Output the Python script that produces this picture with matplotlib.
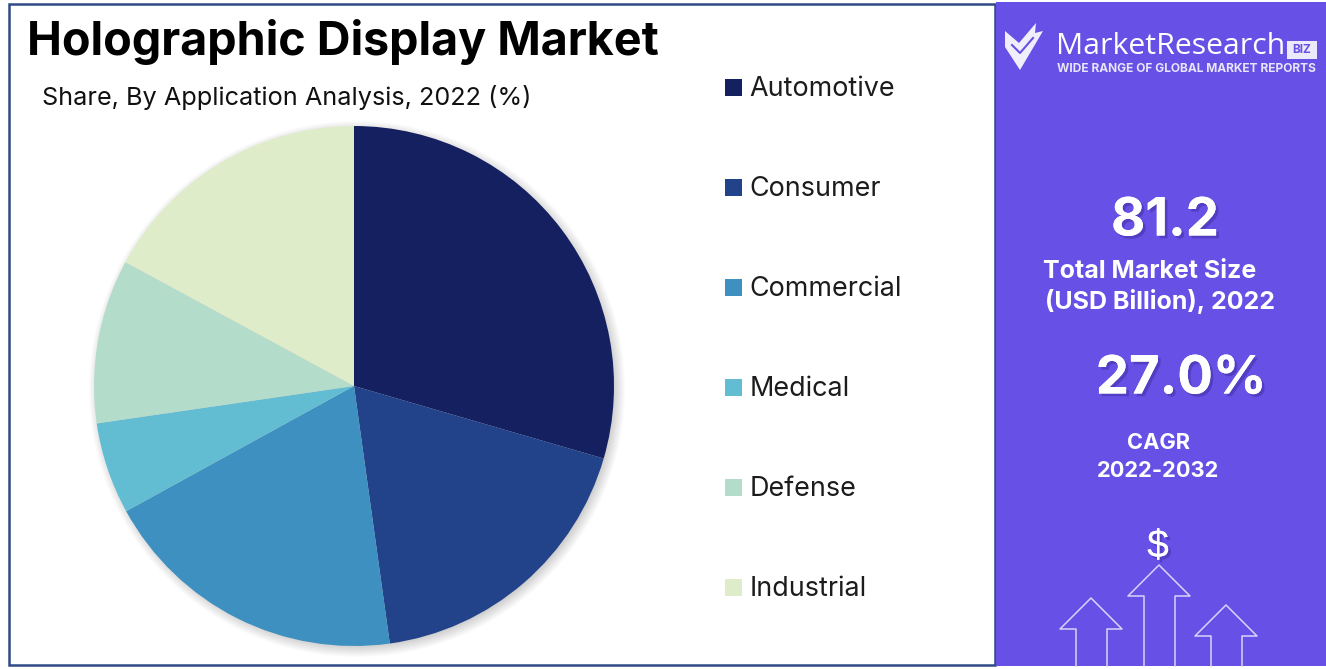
import matplotlib
matplotlib.use("Agg")
import matplotlib.pyplot as plt
import matplotlib.patheffects as pe
from matplotlib.patches import Rectangle, Circle, Polygon

# Data
categories = ["Automotive", "Consumer", "Commercial", "Medical", "Defense", "Industrial"]
shares = [29.5, 18.3, 19.2, 5.7, 10.2, 17.1]
colors = ["#14205f", "#22428a", "#3d90bf", "#62bdd3", "#b4dccb", "#dfecc9"]

title = "Holographic Display Market"
subtitle = "Share, By Application Analysis, 2022 (%)"
market_size = "81.2"
market_label = ["Total Market Size", "(USD Billion), 2022"]
cagr = "27.0%"
cagr_label = "CAGR\n2022-2032"

W, H = 1326, 669
PANEL = "#6650e6"
FONT = "Inter"

fig = plt.figure(figsize=(W / 100, H / 100), dpi=100, facecolor="white")

# Background axes in pixel coords, y pointing down like the picture
bg = fig.add_axes([0, 0, 1, 1])
bg.set_xlim(0, W)
bg.set_ylim(H, 0)
bg.axis("off")

# Frame and side panel
bg.add_patch(Rectangle((9, 4), 986, 661, fill=False, ec="#2f4a86", lw=1.8))
bg.add_patch(Rectangle((996, 2), 330, 664, fc=PANEL, ec="none"))

# Title
bg.text(27, 42, title, fontsize=33.6, fontweight="bold", family=FONT, color="black", va="center")
bg.text(42, 98, subtitle, fontsize=18.2, family=FONT, color="#111111", va="center")

# Soft shadow under the pie
for i in range(12):
    bg.add_patch(Circle((357, 389), 268 - i, fc="black", ec="none", alpha=0.016, zorder=1))

# Pie
cx, cy, r = 354, 386, 260
pie_ax = fig.add_axes([(cx - r) / W, 1 - (cy + r) / H, 2 * r / W, 2 * r / H])
pie_ax.pie(shares, colors=colors, startangle=90, counterclock=False, radius=1.0)
pie_ax.set_xlim(-1, 1)
pie_ax.set_ylim(-1, 1)

# Legend
for i, (name, col) in enumerate(zip(categories, colors)):
    y = 87 + i * 100
    bg.add_patch(Rectangle((725, y - 8.5), 17, 17, fc=col, ec="none"))
    bg.text(749.5, y + 2, name, fontsize=19.4, family=FONT, color="#1c1c1c", va="center")

# Logo
bg.add_patch(Polygon([(1005, 31), (1019, 43), (1036, 23), (1035, 33), (1043, 31), (1020, 70), (1005, 47)],
                     fc="#f1eefc", ec="none", zorder=3))
bg.plot([1012, 1020, 1033], [45, 53, 38], color=PANEL, lw=1.5, zorder=4)
bg.text(1056, 47, "MarketResearch", fontsize=21.8, family="Open Sans", color="white", va="center", zorder=3)
bg.add_patch(Rectangle((1287, 41), 30, 18, fc="#ece9fb", ec="none", zorder=3))
bg.text(1302, 50, "BIZ", fontsize=8.5, fontweight="bold", family=FONT, color=PANEL, ha="center", va="center", zorder=4)
bg.text(1057, 69, "WIDE RANGE OF GLOBAL MARKET REPORTS", fontsize=8.6, fontweight="bold", family=FONT,
        color="#e8e5fa", va="center", zorder=3)

# Side panel numbers
shadow = [pe.withSimplePatchShadow(offset=(2, -2), shadow_rgbFace="#2a1f80", alpha=0.35), pe.Normal()]
bg.text(1165, 222, market_size, fontsize=38, fontweight="bold", family=FONT, color="white",
        ha="center", va="center", path_effects=shadow, zorder=3)
bg.text(1043, 272, market_label[0], fontsize=18, fontweight="bold", family=FONT, color="white",
        ha="left", va="center", zorder=3)
bg.text(1045, 302, market_label[1], fontsize=18, fontweight="bold", family=FONT, color="white",
        ha="left", va="center", zorder=3)
bg.text(1181, 380, cagr, fontsize=38, fontweight="bold", family=FONT, color="white",
        ha="center", va="center", path_effects=shadow, zorder=3)
bg.text(1158, 457, cagr_label, fontsize=15.7, fontweight="bold", family=FONT, color="white",
        ha="center", va="center", linespacing=1.45, zorder=3)
bg.text(1158, 547, "$", fontsize=28, family="Liberation Sans", color="white",
        ha="center", va="center", path_effects=shadow, zorder=3)

# Arrows at the bottom of the panel
def arrow(tip_x, tip_y):
    xs = [tip_x - 15, tip_x - 15, tip_x - 31, tip_x, tip_x + 31, tip_x + 16, tip_x + 16]
    ys = [666, tip_y + 31, tip_y + 31, tip_y, tip_y + 31, tip_y + 31, 666]
    bg.plot(xs, ys, color="#d9d3fa", lw=1.1, zorder=3)

arrow(1091, 598)
arrow(1159, 565)
arrow(1226, 605)

fig.savefig("out.png", dpi=100, facecolor="white")
plt.close(fig)
